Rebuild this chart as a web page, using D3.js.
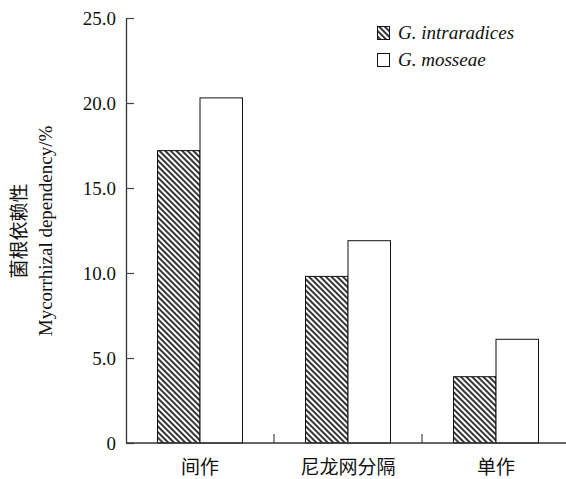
<!DOCTYPE html>
<html>
<head>
<meta charset="utf-8">
<script src="https://cdn.jsdelivr.net/npm/d3@7"></script>
<style>
  body { margin: 0; background: #fff; }
  svg { display: block; }
</style>
</head>
<body>
<script>
// Mycorrhizal dependency by cultivation mode

var width = 566;
var height = 479;

var categories = ["间作", "尼龙网分隔", "单作"];
var seriesNames = ["G. intraradices", "G. mosseae"];
var intraradices = [17.2, 9.8, 3.9];
var mosseae = [20.3, 11.9, 6.1];
var yTicks = [0, 5, 10, 15, 20, 25];
var yTickLabels = ["0", "5.0", "10.0", "15.0", "20.0", "25.0"];

var serif = "'Liberation Serif', 'Times New Roman', serif";
var cjk = "'Liberation Serif', 'Noto Sans CJK SC', serif";

var svg = d3.select("body")
            .append("svg")
            .attr("width", width)
            .attr("height", height);

// hatch pattern, lines running top-left to bottom-right
var defs = svg.append("defs");
defs.append("pattern")
    .attr("id", "hatch")
    .attr("patternUnits", "userSpaceOnUse")
    .attr("width", 4)
    .attr("height", 4)
    .attr("patternTransform", "rotate(-45)")
    .append("line")
    .attr("x1", 1).attr("y1", 0)
    .attr("x2", 1).attr("y2", 4)
    .attr("stroke", "#111")
    .attr("stroke-width", 1.7);

var fills = ["url(#hatch)", "#fff"];

var xScale = d3.scaleBand()
               .domain(categories)
               .range([126, 570])
               .paddingInner(0)
               .paddingOuter(0);

var groupWidth = 85;
var subScale = d3.scaleBand()
                 .domain(seriesNames)
                 .range([(xScale.bandwidth() - groupWidth) / 2,
                         (xScale.bandwidth() + groupWidth) / 2]);

var yScale = d3.scaleLinear()
               .domain([0, 25])
               .range([443, 18]);

var table = categories.map(function(cat, i){
  return { cat: cat, values: [intraradices[i], mosseae[i]] };
});

// bars
var groups = svg.selectAll("g.group")
   .data(table)
   .enter()
   .append("g")
   .attr("class", "group")
   .attr("transform", function(d){
     return "translate(" + xScale(d.cat) + ",0)";
   });

groups.selectAll("rect")
   .data(function(d){
     return d.values.map(function(v, j){ return { name: seriesNames[j], value: v, idx: j }; });
   })
   .enter()
   .append("rect")
   .attr("x", function(d){ return subScale(d.name); })
   .attr("y", function(d){ return yScale(d.value); })
   .attr("width", subScale.bandwidth())
   .attr("height", function(d){ return yScale(0) - yScale(d.value); })
   .attr("fill", function(d){ return fills[d.idx]; })
   .attr("stroke", "#111")
   .attr("stroke-width", 1);

// y axis, ticks pointing inward
var yAxis = d3.axisLeft(yScale)
              .tickValues(yTicks)
              .tickFormat(function(d, i){ return yTickLabels[i]; })
              .tickSizeInner(-8)
              .tickSizeOuter(0)
              .tickPadding(10);

var yG = svg.append("g")
   .attr("transform", "translate(126,0)")
   .call(yAxis);
yG.select(".domain").attr("stroke", "#333").attr("stroke-width", 1.3);
yG.selectAll(".tick line").attr("stroke", "#444").attr("stroke-width", 1.2);
yG.selectAll(".tick text")
  .attr("font-family", serif)
  .attr("font-size", "19px")
  .attr("fill", "#111");

// x axis: baseline plus category boundary ticks pointing up
svg.append("line")
   .attr("x1", 126).attr("x2", 570)
   .attr("y1", yScale(0)).attr("y2", yScale(0))
   .attr("stroke", "#333")
   .attr("stroke-width", 1.3);

svg.selectAll("line.xtick")
   .data(categories.slice(1))
   .enter()
   .append("line")
   .attr("class", "xtick")
   .attr("x1", function(d){ return xScale(d); })
   .attr("x2", function(d){ return xScale(d); })
   .attr("y1", yScale(0))
   .attr("y2", yScale(0) - 9)
   .attr("stroke", "#444")
   .attr("stroke-width", 1.2);

svg.selectAll("text.xlabel")
   .data(categories)
   .enter()
   .append("text")
   .attr("class", "xlabel")
   .attr("x", function(d){ return xScale(d) + xScale.bandwidth() / 2; })
   .attr("y", 474)
   .attr("text-anchor", "middle")
   .attr("font-family", cjk)
   .attr("font-size", "19px")
   .attr("fill", "#111")
   .text(function(d){ return d; });

// y axis title, two lines
var yTitle = svg.append("g")
   .attr("transform", "translate(0,231) rotate(-90)");
yTitle.append("text")
   .attr("x", 0).attr("y", 26)
   .attr("text-anchor", "middle")
   .attr("font-family", cjk)
   .attr("font-size", "19px")
   .attr("fill", "#111")
   .text("菌根依赖性");
yTitle.append("text")
   .attr("x", 0).attr("y", 52)
   .attr("text-anchor", "middle")
   .attr("font-family", serif)
   .attr("font-size", "19px")
   .attr("fill", "#111")
   .text("Mycorrhizal dependency/%");

// legend
var legend = svg.selectAll("g.legend")
   .data(seriesNames)
   .enter()
   .append("g")
   .attr("class", "legend")
   .attr("transform", function(d, i){ return "translate(377," + (26 + i * 27) + ")"; });

legend.append("rect")
   .attr("x", 0.5).attr("y", 0.5)
   .attr("width", 12).attr("height", 13)
   .attr("fill", function(d, i){ return fills[i]; })
   .attr("stroke", "#111")
   .attr("stroke-width", 1);

legend.append("text")
   .attr("x", 21)
   .attr("y", 12.5)
   .attr("font-family", serif)
   .attr("font-style", "italic")
   .attr("font-size", "19px")
   .attr("fill", "#111")
   .text(function(d){ return d; });
</script>
</body>
</html>
